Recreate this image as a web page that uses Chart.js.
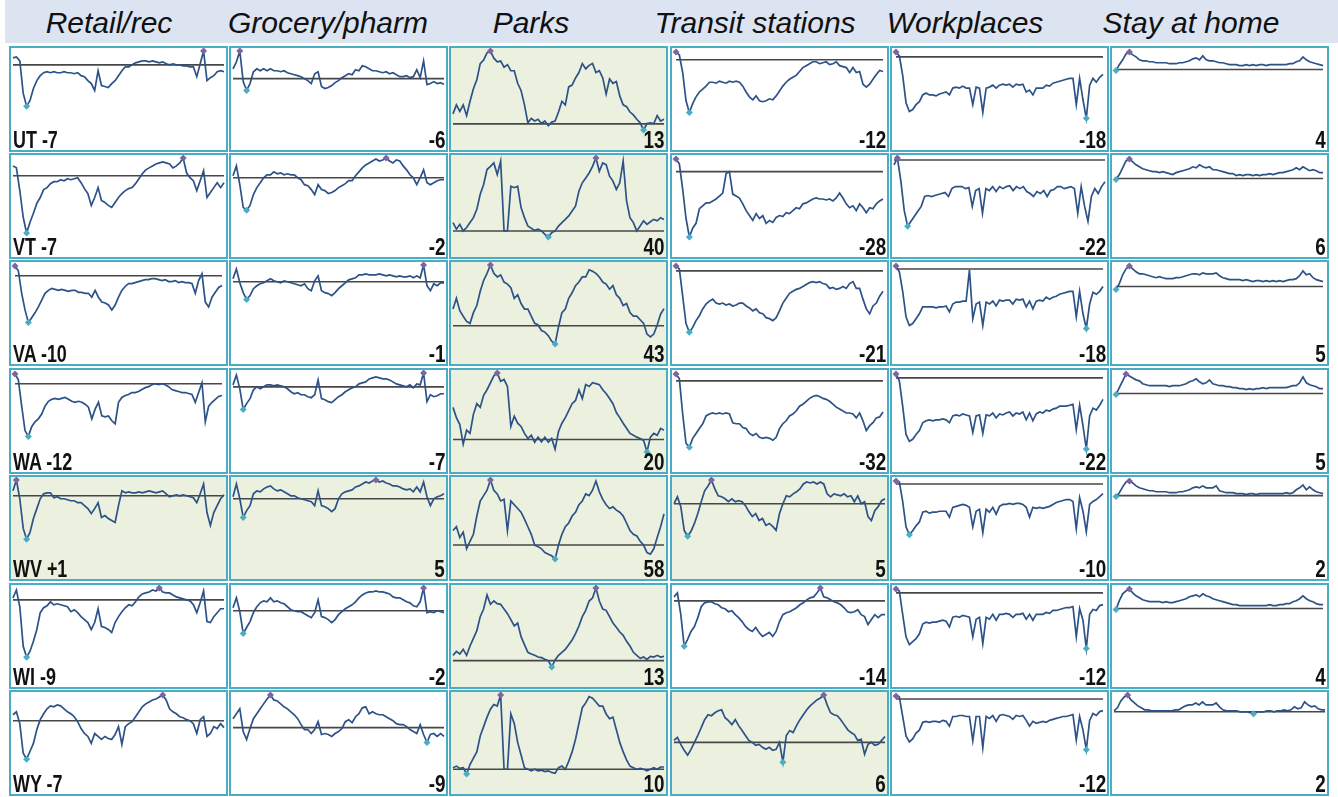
<!DOCTYPE html>
<html>
<head>
<meta charset="utf-8">
<script src="https://cdn.jsdelivr.net/npm/chart.js@4.4.1/dist/chart.umd.min.js"></script>
<style>
html, body { margin: 0; padding: 0; background: #fff; }
body { width: 1338px; height: 797px; position: relative; overflow: hidden; font-family: "Liberation Sans", Arial, sans-serif; }
#head { position: absolute; left: 5px; top: 0; width: 1333px; height: 43px; background: #dbe4f0; }
.ttl { position: absolute; top: 5px; width: 300px; text-align: center; font-style: italic; font-size: 30px; line-height: 36px; color: #111; white-space: nowrap; }
.panel { position: absolute; box-sizing: border-box; width: 219px; height: 106px; border: 2px solid #4bacc6; background: #fff; }
.panel.up { background: #ebf1de; }
.panel canvas { position: absolute; left: 0; top: 0; }
.lab { position: absolute; bottom: -1px; font-family: "Liberation Sans", Arial, sans-serif; font-weight: bold; font-size: 23px; line-height: 22px; color: #111; white-space: nowrap; }
.lab.l { left: 2px; transform: scaleX(0.78); transform-origin: left bottom; }
.lab.r { right: 1px; transform: scaleX(0.82); transform-origin: right bottom; }
</style>
</head>
<body>
<div id="head"></div>
<script>
// sample dates, every 12 days
const dates = [
  "2020-02-15","2020-02-27","2020-03-10","2020-03-22","2020-04-03","2020-04-15","2020-04-27","2020-05-09","2020-05-21","2020-06-02",
  "2020-06-14","2020-06-26","2020-07-08","2020-07-20","2020-08-01","2020-08-13","2020-08-25","2020-09-06","2020-09-18","2020-09-30",
  "2020-10-12","2020-10-24","2020-11-05","2020-11-17","2020-11-29","2020-12-11","2020-12-23","2021-01-04","2021-01-16","2021-01-28",
  "2021-02-09","2021-02-21","2021-03-05","2021-03-17","2021-03-29","2021-04-10","2021-04-22","2021-05-04","2021-05-16","2021-05-28",
  "2021-06-09","2021-06-21","2021-07-03","2021-07-15","2021-07-27","2021-08-08","2021-08-20","2021-09-01","2021-09-13","2021-09-25",
  "2021-10-07","2021-10-19","2021-10-31","2021-11-12","2021-11-24","2021-12-06","2021-12-18","2021-12-30","2022-01-11","2022-01-23",
  "2022-02-04","2022-02-16","2022-02-28"
];

const states = ["UT", "VT", "VA", "WA", "WV", "WI", "WY"];
const categories = ["Retail/rec", "Grocery/pharm", "Parks", "Transit stations", "Workplaces", "Stay at home"];

// latest value shown in each cell
const retailNow = [-7, -7, -10, -12, 1, -9, -7];
const groceryNow = [-6, -2, -1, -7, 5, -2, -9];
const parksNow = [13, 40, 43, 20, 58, 13, 10];
const transitNow = [-12, -28, -21, -32, 5, -14, 6];
const workNow = [-18, -22, -18, -22, -10, -12, -12];
const homeNow = [4, 6, 5, 5, 2, 4, 2];

// % change from baseline
const utRetail = [7,8,4,-29,-42,-36,-24,-16,-11,-8, -7,-8,-7,-8,-8,-7,-8,-8,-9,-8, -11,-12,-16,-19,-26,-6,-21,-22,-23,-19, -16,-11,-6,-2,-2,0,2,3,4,4, 3,4,3,2,3,1,0,1,0,0, -1,-1,-2,-2,-12,1,14,-16,-13,-11, -7,-6,-7];
const utGrocery = [10,17,28,-3,-12,-5,7,10,8,10, 8,10,8,8,7,8,6,5,4,3, 2,0,-2,-5,5,7,-8,-10,-9,-7, -4,-2,1,3,5,4,9,8,13,12, 10,8,8,7,6,7,5,6,4,2, 2,3,1,2,9,1,18,-6,-5,-3, -5,-4,-6];
const utParks = [28,53,35,53,23,63,98,123,168,178, 198,203,183,173,175,158,165,148,148,113, 93,53,3,15,8,13,1,8,-5,5, 8,33,63,53,103,108,128,143,168,153, 163,168,143,148,128,83,125,113,118,78, 53,48,33,25,13,3,-17,1,3,1, 23,8,13];
const utTransit = [8,5,-13,-42,-54,-45,-38,-33,-30,-27, -23,-23,-24,-22,-23,-24,-22,-23,-22,-23, -27,-33,-38,-41,-37,-42,-43,-42,-40,-41, -37,-32,-27,-23,-20,-18,-16,-12,-8,-6, -4,-2,-2,-4,-3,-2,-5,-4,-2,-6, -7,-8,-13,-8,-13,-12,-25,-28,-25,-20, -15,-11,-12];
const utWork = [5,1,-19,-47,-56,-54,-49,-46,-39,-37, -39,-39,-40,-38,-37,-36,-39,-32,-31,-32, -30,-32,-32,-49,-31,-32,-57,-32,-31,-29, -32,-29,-28,-29,-28,-31,-28,-29,-28,-36, -34,-39,-32,-32,-32,-29,-30,-27,-26,-25, -24,-23,-22,-22,-49,-22,-44,-63,-29,-22, -26,-21,-18];
const utHome = [-1,5,10,16,18,15,13,10,9,9, 8,8,7,7,7,7,6,6,6,7, 7,8,9,11,12,10,14,10,9,9, 8,7,7,6,5,5,5,4,4,5, 4,5,4,5,5,4,5,5,5,5, 5,5,6,6,8,9,13,10,8,7, 6,5,4];

const vtRetail = [10,8,-15,-42,-58,-47,-38,-28,-22,-14, -12,-8,-6,-6,-4,-5,-3,-4,-3,-2, -7,-13,-18,-30,-22,-12,-25,-27,-30,-32, -27,-22,-18,-15,-13,-12,-8,-3,2,6, 8,10,12,13,14,13,12,8,10,13, 18,3,-2,-5,-15,-5,5,-22,-17,-12, -7,-12,-7];
const vtGrocery = [2,12,-7,-30,-33,-28,-17,-10,-5,0, 3,3,6,4,5,3,4,3,3,0, -2,-7,-8,-12,-17,-7,-12,-13,-16,-15, -13,-10,-8,-6,-3,-3,2,6,10,13, 15,17,19,17,18,20,17,15,18,17, 12,8,3,0,-7,0,8,-5,-7,-5, -3,-2,-2];
const vtParks = [29,6,23,0,12,29,46,75,127,161, 213,224,236,196,242,0,0,155,150,155, 81,46,17,9,2,6,0,-12,-21,-6, 0,17,29,40,52,69,86,138,167,184, 201,224,253,207,236,230,190,173,144,167, 242,104,46,29,0,17,35,23,32,40, 35,46,40];
const vtTransit = [13,8,-18,-48,-67,-58,-53,-38,-35,-32, -32,-30,-28,-25,-22,-2,0,-23,-25,-27, -33,-40,-45,-50,-43,-48,-45,-53,-50,-52, -47,-45,-46,-42,-43,-40,-37,-38,-33,-32, -30,-28,-27,-28,-28,-29,-28,-30,-27,-22, -27,-33,-37,-35,-40,-33,-37,-42,-37,-38, -33,-30,-28];
const vtWork = [-5,2,-21,-51,-67,-62,-57,-52,-47,-37, -36,-37,-36,-35,-34,-33,-37,-29,-27,-27, -27,-29,-28,-47,-31,-29,-54,-29,-31,-27, -32,-27,-29,-27,-26,-31,-27,-29,-27,-32, -34,-37,-32,-34,-31,-37,-31,-30,-27,-27, -29,-28,-27,-29,-54,-27,-47,-62,-37,-29, -34,-27,-22];
const vtHome = [-1,4,11,18,20,17,14,12,10,9, 8,7,7,6,7,6,5,4,6,7, 8,9,10,12,11,14,12,11,12,9, 9,8,7,6,5,5,3,4,3,4, 4,3,4,3,4,4,5,4,5,6, 6,7,8,9,11,9,12,10,8,9, 8,6,6];

const vaRetail = [10,5,-18,-35,-48,-43,-38,-32,-25,-18, -15,-13,-14,-15,-14,-15,-16,-15,-15,-17, -17,-18,-18,-22,-15,-22,-27,-28,-30,-35, -30,-22,-15,-11,-8,-8,-7,-6,-5,-4, -4,-3,-3,-4,-5,-4,-6,-6,-5,-7, -6,-7,-7,-8,-18,-5,2,-27,-32,-22, -17,-12,-10];
const vaGrocery = [3,13,-1,-11,-18,-14,-7,-4,-2,-1, 1,3,1,0,-1,1,0,-1,-2,-3, -4,-2,-7,-9,1,6,-9,-11,-12,-14, -11,-7,-4,-1,2,3,4,7,7,8, 7,7,7,8,7,6,7,6,5,6, 5,5,6,4,6,4,17,-4,-9,-2, -4,-1,-1];
const vaParks = [42,69,38,24,11,6,33,51,87,114, 132,153,132,123,128,110,105,96,69,78, 56,42,42,24,6,2,-12,-16,-25,-39, -46,-3,33,42,69,83,101,110,123,123, 141,137,132,123,110,105,92,101,78,69, 51,56,33,24,24,15,6,-21,-28,-21, 2,29,43];
const vaTransit = [5,2,-26,-54,-63,-58,-51,-46,-39,-34, -31,-29,-33,-34,-33,-35,-34,-36,-35,-33, -33,-36,-38,-41,-39,-43,-44,-48,-49,-51, -48,-41,-33,-28,-23,-21,-19,-18,-16,-14, -12,-11,-12,-11,-13,-14,-18,-17,-19,-18, -16,-18,-13,-11,-18,-18,-29,-39,-44,-36, -33,-26,-21];
const vaWork = [3,-3,-23,-49,-58,-56,-51,-46,-39,-39, -39,-39,-40,-39,-39,-38,-44,-36,-34,-34, -33,-33,-1,-51,-36,-34,-58,-34,-36,-33, -38,-32,-33,-32,-32,-36,-31,-32,-31,-39, -33,-41,-33,-32,-33,-29,-31,-29,-28,-26, -25,-24,-23,-23,-49,-23,-46,-61,-36,-24, -26,-23,-18];
const vaHome = [-3,3,12,18,21,18,15,13,13,12, 11,10,9,10,9,8,8,8,9,9, 10,11,12,13,13,12,14,13,13,13, 14,11,9,8,7,7,7,7,6,7, 6,5,6,6,5,6,5,6,5,6, 5,6,7,7,8,11,16,12,13,9, 7,6,5];

const waRetail = [10,4,-23,-48,-54,-44,-39,-36,-31,-23, -18,-16,-15,-16,-15,-14,-16,-18,-19,-18, -19,-21,-24,-36,-26,-19,-33,-34,-33,-38, -41,-19,-14,-12,-11,-9,-9,-8,-6,-4, -3,-1,0,-1,0,-1,-3,-6,-7,-8, -9,-9,-10,-11,-19,-9,1,-39,-23,-19, -16,-13,-12];
const waGrocery = [2,12,-2,-23,-17,-12,-3,0,-2,0, 2,2,1,2,1,0,-2,-5,-7,-6, -8,-8,-10,-11,-8,7,-12,-13,-15,-16, -13,-10,-8,-5,-3,-1,0,3,4,5, 8,9,10,9,8,8,7,5,3,2, 1,0,2,-1,3,2,14,-15,-8,-10, -9,-7,-7];
const waParks = [69,47,32,-10,20,13,54,77,69,95, 107,122,137,143,125,129,114,28,50,35, 28,13,2,9,-6,5,-5,5,-6,2, -21,17,35,47,62,77,84,107,88,118, 114,122,120,118,107,99,88,77,58,47, 35,24,13,9,5,2,-2,-27,5,13, 9,24,20];
const waTransit = [7,2,-34,-64,-68,-59,-54,-49,-44,-36, -34,-33,-34,-33,-34,-33,-34,-43,-44,-44, -48,-49,-54,-56,-54,-58,-59,-58,-59,-61, -58,-49,-44,-41,-36,-34,-31,-26,-24,-21, -18,-16,-15,-16,-18,-19,-21,-24,-27,-29, -31,-33,-33,-34,-38,-33,-41,-51,-46,-43, -38,-37,-32];
const waWork = [4,-3,-29,-58,-65,-63,-58,-54,-46,-44, -43,-44,-43,-43,-42,-43,-46,-39,-38,-39, -37,-38,-39,-56,-39,-38,-57,-38,-39,-36, -41,-37,-38,-36,-35,-39,-36,-37,-35,-43, -36,-44,-37,-35,-36,-33,-34,-32,-31,-29, -29,-29,-28,-27,-53,-28,-49,-73,-39,-31, -33,-28,-22];
const waHome = [-1,6,13,20,18,16,14,13,10,9, 8,8,8,8,8,8,7,8,8,8, 9,10,12,13,15,12,10,11,14,10, 9,8,8,7,7,6,6,5,5,4, 5,4,5,5,6,5,6,6,6,6, 6,6,7,8,8,11,17,11,9,8, 7,5,5];

const wvRetail = [5,16,-3,-33,-44,-37,-23,-13,-3,2, 3,3,-2,-1,-3,-3,-4,-5,-5,-7, -7,-10,-13,-18,-13,-7,-22,-20,-23,-25, -27,-10,5,3,4,3,3,4,3,4, 5,4,3,4,5,2,-1,0,1,0, 1,0,-1,-2,-7,2,12,-17,-30,-17, -10,-3,1];
const wvGrocery = [2,15,0,-19,-12,-7,5,8,7,10, 12,13,10,8,9,7,5,3,3,1, 0,-1,-2,-3,-7,8,-7,-8,-10,-13, -10,0,5,7,8,9,12,13,15,17, 16,18,19,17,18,16,15,13,13,12, 10,9,10,7,12,7,17,2,-7,0, 2,3,5];
const wvParks = [27,34,14,24,-7,7,20,54,82,92, 102,121,102,95,82,85,27,82,75,68, 61,48,34,20,0,-3,-7,-14,-17,-20, -26,0,20,34,41,54,61,75,82,95, 92,102,119,99,85,75,68,71,65,61, 54,41,27,20,17,7,0,-14,-17,-7, 14,34,58];
const wvTransit = [0,7,-3,-27,-33,-28,-20,-10,2,13, 18,24,15,8,7,5,2,5,2,3, 2,-2,-8,-13,-10,-17,-15,-22,-20,-23, -27,-10,0,8,7,10,12,15,20,22, 21,22,20,22,20,10,7,10,9,8, 10,7,8,2,8,0,2,-13,-17,-7, -3,3,5];
const wvWork = [3,2,-18,-44,-52,-48,-43,-39,-29,-28, -30,-29,-29,-28,-28,-28,-34,-24,-23,-22, -21,-22,-24,-44,-28,-26,-50,-26,-29,-24, -31,-23,-21,-21,-20,-21,-20,-20,-21,-24, -34,-24,-25,-24,-25,-24,-23,-21,-19,-18, -17,-16,-16,-18,-46,-14,-28,-49,-21,-18, -16,-13,-10];
const wvHome = [-1,3,9,14,15,13,10,8,7,6, 5,5,4,4,4,4,3,3,3,4, 4,5,6,8,9,8,10,8,8,8, 10,5,4,3,3,3,2,2,2,1, 2,2,1,2,2,2,2,2,2,2, 2,3,2,3,6,8,11,6,9,6, 4,3,2];

const wiRetail = [2,10,-7,-47,-58,-52,-42,-30,-13,-8, -6,-2,-5,-4,-5,-6,-7,-12,-10,-13, -17,-20,-23,-30,-23,-9,-27,-28,-30,-33, -23,-17,-12,-8,-5,-6,-2,3,6,7, 8,10,9,12,8,7,7,5,3,2, 1,0,-1,-5,-13,-3,9,-22,-23,-17, -13,-9,-9];
const wiGrocery = [3,13,-1,-23,-17,-11,-2,4,8,10, 9,13,9,10,8,7,4,1,0,-1, -1,-3,-5,-7,-2,11,-6,-7,-9,-12, -9,-4,-1,2,4,6,9,13,16,18, 19,19,20,19,19,18,17,14,13,13, 11,9,8,5,4,9,23,-2,-1,-2, 0,-1,-2];
const wiParks = [16,28,20,34,16,44,67,90,132,155, 197,169,179,171,169,155,141,123,104,113, 72,48,25,20,16,11,9,4,0,-19, 2,16,25,34,48,62,81,104,132,151, 179,188,218,179,155,151,132,113,100,86, 76,58,44,25,16,7,11,4,13,11, 16,11,13];
const wiTransit = [4,8,-14,-46,-39,-31,-26,-17,-6,-2, -1,-1,-3,-4,-7,-8,-11,-10,-14,-17, -21,-26,-29,-31,-27,-32,-36,-34,-32,-36, -31,-21,-14,-12,-11,-9,-7,-4,-2,1, 3,4,8,13,4,3,1,-1,-2,-4, -7,-11,-12,-11,-9,-14,-16,-24,-19,-14, -17,-14,-14];
const wiWork = [4,2,-22,-45,-53,-50,-47,-42,-32,-30, -31,-30,-30,-29,-28,-29,-35,-25,-24,-25, -23,-24,-25,-45,-27,-25,-52,-25,-27,-22, -28,-22,-22,-21,-22,-25,-22,-22,-21,-27, -22,-28,-22,-22,-22,-20,-21,-18,-18,-17, -16,-15,-15,-14,-45,-16,-28,-57,-22,-17, -18,-13,-12];
const wiHome = [-1,8,15,18,20,16,13,11,9,8, 7,7,7,7,6,7,6,6,7,8, 9,10,12,13,14,12,15,13,12,10, 9,8,7,6,5,4,4,3,3,3, 3,3,3,3,3,3,4,3,3,4, 4,5,5,7,8,10,13,10,8,7, 5,4,4];

const wyRetail = [6,9,-3,-33,-39,-31,-23,-9,1,7, 12,15,14,16,15,12,9,7,4,-1, -8,-13,-16,-23,-13,-16,-19,-16,-18,-19, -14,-6,-24,-6,-3,-1,4,9,14,17, 19,21,22,24,26,21,12,9,7,4, 3,1,0,-3,-13,1,4,-16,-13,-6, -8,-3,-7];
const wyGrocery = [9,14,19,-4,-12,-1,9,14,19,24, 29,33,28,27,24,21,19,16,13,9, 3,-2,-2,-6,-2,6,-7,-6,-7,-9, -6,-4,-1,6,8,5,11,14,20,21, 14,16,14,13,13,11,9,7,4,3, 3,1,-2,-4,-6,3,-7,-15,-7,-6, -9,-6,-9];
const wyParks = [7,14,4,7,-21,21,49,77,147,189, 231,266,287,280,329,0,0,245,203,119, 63,7,0,-7,0,-7,-4,-10,-7,-14, -18,7,14,0,35,77,133,203,273,294, 322,315,298,280,280,245,224,231,175,119, 77,42,14,7,0,4,0,-7,0,7, 0,10,10];
const wyTransit = [2,5,-2,-8,-13,-7,0,7,15,23, 28,27,30,32,33,25,22,18,23,17, 12,7,2,0,-3,-2,-5,-7,-5,-8, -7,0,-20,7,12,10,17,23,28,33, 37,40,43,45,48,38,30,28,27,23, 18,13,10,8,2,3,-12,-2,0,-3, -2,2,6];
const wyWork = [3,2,-18,-38,-44,-41,-35,-32,-24,-23, -24,-23,-23,-24,-22,-23,-28,-18,-18,-17, -17,-18,-18,-43,-18,-18,-50,-18,-20,-17, -23,-17,-16,-17,-18,-21,-17,-18,-17,-22, -28,-23,-25,-24,-23,-24,-22,-21,-20,-19, -18,-18,-17,-16,-42,-18,-32,-52,-22,-15, -17,-13,-12];
const wyHome = [1,4,11,15,17,12,9,6,4,2, 2,1,1,1,1,1,1,1,2,2, 4,6,7,7,9,7,10,7,7,7, 9,5,2,1,1,1,1,0,0,0, -1,-2,0,0,0,1,1,0,1,1, 2,1,2,5,3,4,10,7,5,6, 3,2,2];

const grid = [
  [utRetail, utGrocery, utParks, utTransit, utWork, utHome],
  [vtRetail, vtGrocery, vtParks, vtTransit, vtWork, vtHome],
  [vaRetail, vaGrocery, vaParks, vaTransit, vaWork, vaHome],
  [waRetail, waGrocery, waParks, waTransit, waWork, waHome],
  [wvRetail, wvGrocery, wvParks, wvTransit, wvWork, wvHome],
  [wiRetail, wiGrocery, wiParks, wiTransit, wiWork, wiHome],
  [wyRetail, wyGrocery, wyParks, wyTransit, wyWork, wyHome],
];
const nowByCol = [retailNow, groceryNow, parksNow, transitNow, workNow, homeNow];

const titleCenters = [109, 328, 531, 755, 965, 1191];
const head = document.getElementById("head");
categories.forEach((name, c) => {
  const t = document.createElement("div");
  t.className = "ttl";
  t.textContent = name;
  t.style.left = (titleCenters[c] - 150 - 5) + "px";
  head.appendChild(t);
});

const MIN_SPAN = 80;

function buildCell(r, c) {
  const values = grid[r][c];
  const now = nowByCol[c][r];

  const box = document.createElement("div");
  box.className = "panel" + (now > 0 && c !== 5 ? " up" : "");
  box.style.left = (9 + Math.round(c * 220.2)) + "px";
  box.style.top = (45.5 + r * 107.4) + "px";

  const canvas = document.createElement("canvas");
  canvas.width = 215;
  canvas.height = 102;
  box.appendChild(canvas);

  const lab = document.createElement("div");
  if (c === 0) {
    lab.className = "lab l";
    lab.textContent = states[r] + " " + (now > 0 ? "+" + now : now);
  } else {
    lab.className = "lab r";
    lab.textContent = String(now);
  }
  box.appendChild(lab);
  document.body.appendChild(box);

  const hi = Math.max(...values);
  const lo = Math.min(...values);

  new Chart(canvas, {
    type: "line",
    data: {
      labels: dates,
      datasets: [
        {
          data: values,
          borderColor: "#2c5287",
          borderWidth: 1.7,
          tension: 0,
          clip: 8,
          order: 1,
          pointStyle: "rectRot",
          pointRadius: (ctx) => (ctx.raw === hi || ctx.raw === lo ? 3.5 : 0),
          pointBackgroundColor: (ctx) => (ctx.raw === hi ? "#8064a2" : "#4bacc6"),
          pointBorderWidth: 0,
        },
        {
          data: dates.map(() => 0),
          borderColor: "#474747",
          borderWidth: 1.6,
          pointRadius: 0,
          order: 2,
        },
      ],
    },
    options: {
      responsive: false,
      animation: false,
      events: [],
      layout: { padding: { left: 2, right: 2, top: 3, bottom: 20 } },
      plugins: { legend: { display: false }, tooltip: { enabled: false } },
      scales: {
        x: { display: false },
        y: { display: false, min: Math.min(lo, hi - MIN_SPAN), max: hi },
      },
    },
  });
}

for (let r = 0; r < states.length; r++) {
  for (let c = 0; c < categories.length; c++) {
    buildCell(r, c);
  }
}
</script>
</body>
</html>
